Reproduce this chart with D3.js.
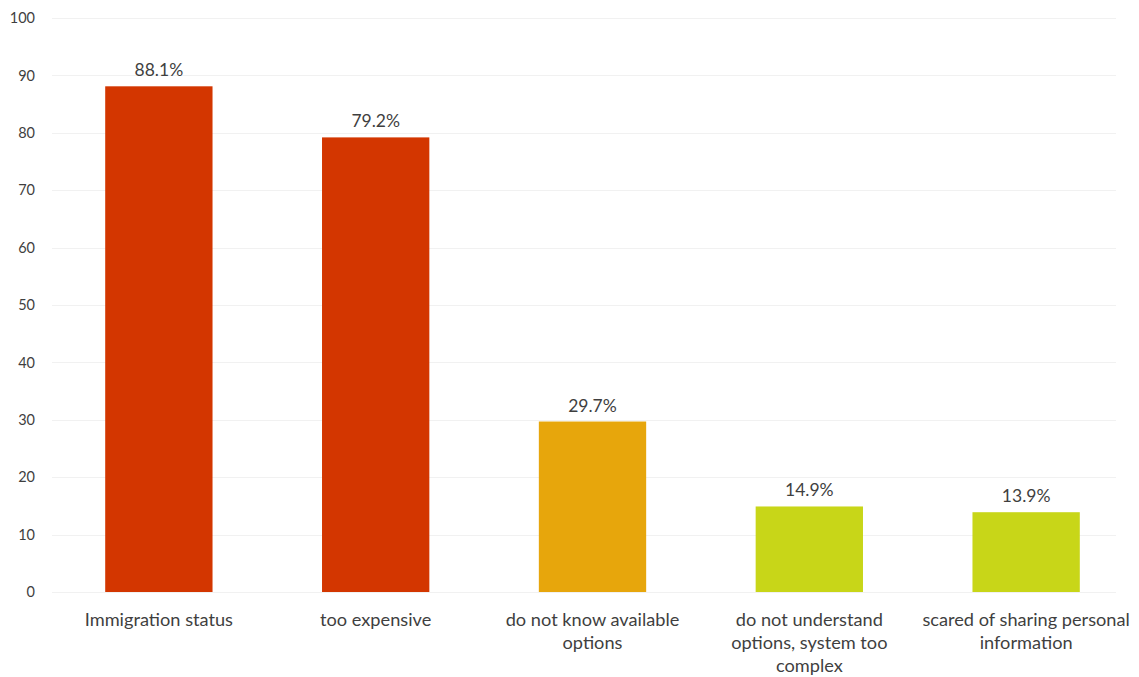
<!DOCTYPE html>
<html>
<head>
<meta charset="utf-8">
<script src="https://cdn.jsdelivr.net/npm/d3@7"></script>
<style>
  html, body { margin: 0; padding: 0; background: #ffffff; }
  svg { display: block; }
  text { font-family: Lato, "Open Sans", sans-serif; fill: #3f3f3f; }
</style>
</head>
<body>
<svg id="chart" width="1139" height="677"></svg>
<script>
// Reasons given, share of respondents (%)
const categories = [
  "Immigration status",
  "too expensive",
  "do not know available options",
  "do not understand options, system too complex",
  "scared of sharing personal information"
];
const values = [88.1, 79.2, 29.7, 14.9, 13.9];
const barColors = ["#d33600", "#d33600", "#e7a60c", "#c8d618", "#c8d618"];
// Line breaks used for the category labels
const labelLines = [
  ["Immigration status"],
  ["too expensive"],
  ["do not know available", "options"],
  ["do not understand", "options, system too", "complex"],
  ["scared of sharing personal", "information"]
];
const yTicks = [0, 10, 20, 30, 40, 50, 60, 70, 80, 90, 100];

const svg = d3.select("#chart");

const x = d3.scaleBand()
  .domain(categories)
  .range([51, 1134])
  .paddingInner(0.505)
  .paddingOuter(0.25);

const y = d3.scaleLinear()
  .domain([0, 100])
  .range([592, 18]);

// Faint horizontal gridlines
svg.append("g")
  .selectAll("line")
  .data(yTicks)
  .join("line")
  .attr("x1", 52)
  .attr("x2", 1116)
  .attr("y1", d => Math.round(y(d)) + 0.5)
  .attr("y2", d => Math.round(y(d)) + 0.5)
  .attr("stroke", "#f1f1f1")
  .attr("stroke-width", 1);

// Y axis tick labels
const yAxis = d3.axisLeft(y).tickValues(yTicks).tickSize(0).tickPadding(0);
const gy = svg.append("g")
  .attr("transform", "translate(35,0)")
  .call(yAxis);
gy.select(".domain").remove();
gy.selectAll("text")
  .attr("font-size", 14.5)
  .attr("font-family", "Lato, 'Open Sans', sans-serif")
  .attr("fill", "#3f3f3f");

// Bars
svg.append("g")
  .selectAll("rect")
  .data(values)
  .join("rect")
  .attr("x", (d, i) => x(categories[i]))
  .attr("y", d => y(d))
  .attr("width", x.bandwidth())
  .attr("height", d => y(0) - y(d))
  .attr("fill", (d, i) => barColors[i]);

// Value labels
svg.append("g")
  .selectAll("text")
  .data(values)
  .join("text")
  .attr("x", (d, i) => x(categories[i]) + x.bandwidth() / 2)
  .attr("y", d => y(d) - 10)
  .attr("text-anchor", "middle")
  .attr("font-size", 17.5)
  .text(d => d.toFixed(1) + "%");

// Category labels under the bars
const gx = svg.append("g");
categories.forEach((c, i) => {
  const t = gx.append("text")
    .attr("x", x(c) + x.bandwidth() / 2)
    .attr("y", 626)
    .attr("text-anchor", "middle")
    .attr("font-size", 18.2);
  labelLines[i].forEach((line, k) => {
    t.append("tspan")
      .attr("x", x(c) + x.bandwidth() / 2)
      .attr("dy", k === 0 ? 0 : 23)
      .text(line);
  });
});
</script>
</body>
</html>
